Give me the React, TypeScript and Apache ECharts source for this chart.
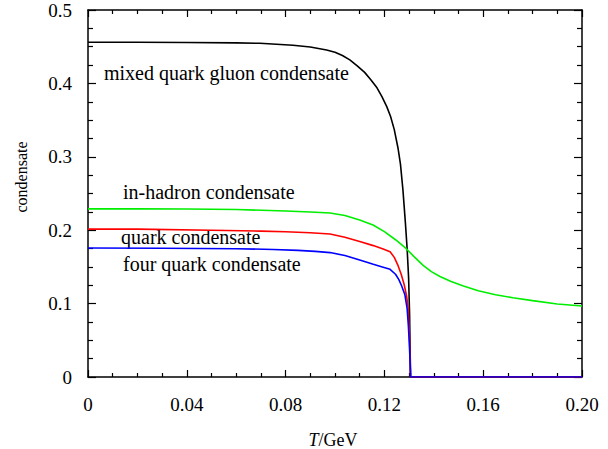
import React, { useEffect, useRef } from "react";
import * as echarts from "echarts";

const xTickLabels = ["0", "0.04", "0.08", "0.12", "0.16", "0.20"];
const yTickLabels = ["0", "0.1", "0.2", "0.3", "0.4", "0.5"];

const mixedT = [0, 0.02, 0.04, 0.06, 0.0696, 0.083, 0.09, 0.0966, 0.1, 0.103, 0.106, 0.109, 0.112, 0.1145, 0.117, 0.119, 0.121, 0.1225, 0.124, 0.1255, 0.1265, 0.1275, 0.1285, 0.1292, 0.1298, 0.1302, 0.1304, 0.1306, 0.2];
const mixedV = [0.456, 0.456, 0.4558, 0.4552, 0.4546, 0.452, 0.4495, 0.4455, 0.4425, 0.438, 0.432, 0.424, 0.415, 0.405, 0.394, 0.382, 0.368, 0.355, 0.337, 0.312, 0.29, 0.255, 0.21, 0.175, 0.135, 0.085, 0.04, 0, 0];

const hadronT = [0, 0.02, 0.04, 0.06, 0.08, 0.09, 0.098, 0.104, 0.11, 0.1154, 0.12, 0.1245, 0.1285, 0.132, 0.1357, 0.139, 0.1425, 0.147, 0.152, 0.158, 0.165, 0.172, 0.18, 0.19, 0.2];
const hadronV = [0.229, 0.229, 0.2288, 0.2282, 0.2262, 0.2248, 0.2235, 0.22, 0.214, 0.207, 0.198, 0.187, 0.176, 0.164, 0.152, 0.1435, 0.137, 0.13, 0.124, 0.1175, 0.112, 0.108, 0.104, 0.0995, 0.0967];

const quarkT = [0, 0.02, 0.05, 0.07, 0.08, 0.09, 0.098, 0.104, 0.11, 0.1155, 0.1195, 0.1223, 0.124, 0.1255, 0.1268, 0.128, 0.129, 0.1296, 0.1301, 0.1304, 0.1306, 0.2];
const quarkV = [0.2015, 0.2015, 0.2, 0.1988, 0.1978, 0.1965, 0.1948, 0.1905, 0.1845, 0.179, 0.1745, 0.1707, 0.163, 0.152, 0.14, 0.126, 0.11, 0.095, 0.06, 0.025, 0, 0];

const fourT = [0, 0.03, 0.06, 0.075, 0.085, 0.092, 0.098, 0.104, 0.11, 0.1155, 0.1195, 0.1223, 0.1245, 0.1258, 0.127, 0.1283, 0.1292, 0.1297, 0.1301, 0.1304, 0.1306, 0.2];
const fourV = [0.1757, 0.1755, 0.1748, 0.1738, 0.1725, 0.1712, 0.1695, 0.1655, 0.1595, 0.1535, 0.1495, 0.1467, 0.14, 0.133, 0.124, 0.112, 0.093, 0.07, 0.045, 0.02, 0, 0];

const curveLabels = [
  { text: "mixed quark gluon condensate", x: 104, y: 73 },
  { text: "in-hadron condensate", x: 123, y: 192 },
  { text: "quark condensate", x: 121, y: 236.5 },
  { text: "four quark condensate", x: 123, y: 264 },
];

const FONT = "'Liberation Serif', 'Times New Roman', serif";

const zip = (t: number[], v: number[]) => t.map((x, i) => [x, v[i]]);

export default function App() {
  const ref = useRef<HTMLDivElement>(null);
  useEffect(() => {
    if (!ref.current) return;
    const chart = echarts.init(ref.current, null, { renderer: "svg" });
    const tickStyle = { color: "#000", width: 1.2 };
    const xFmt = (v: number) => xTickLabels[Math.round(v / 0.04)] ?? "";
    const yFmt = (v: number) => yTickLabels[Math.round(v / 0.1)] ?? "";
    const baseX = {
      type: "value" as const,
      min: 0,
      max: 0.2,
      interval: 0.04,
      axisLine: { show: true, onZero: false, lineStyle: { color: "#000", width: 1.5 } },
      axisTick: { show: true, inside: true, length: 7, lineStyle: tickStyle },
      minorTick: { show: true, splitNumber: 4, length: 4, lineStyle: tickStyle },
      splitLine: { show: false },
      minorSplitLine: { show: false },
    };
    const baseY = {
      type: "value" as const,
      min: 0,
      max: 0.5,
      interval: 0.1,
      axisLine: { show: true, onZero: false, lineStyle: { color: "#000", width: 1.5 } },
      axisTick: { show: true, inside: true, length: 8, lineStyle: tickStyle },
      minorTick: { show: true, splitNumber: 4, length: 5, lineStyle: tickStyle },
      splitLine: { show: false },
      minorSplitLine: { show: false },
    };
    const line = (data: number[][], color: string) => ({
      type: "line" as const,
      data,
      showSymbol: false,
      symbol: "none",
      smooth: false,
      lineStyle: { color, width: 1.6 },
      xAxisIndex: 0,
      yAxisIndex: 0,
    });
    chart.setOption({
      animation: false,
      backgroundColor: "#fff",
      grid: { left: 88, right: 26, top: 10, bottom: 72, containLabel: false },
      xAxis: [
        {
          ...baseX,
          position: "bottom",
          axisLabel: { show: true, formatter: xFmt, margin: 18, color: "#000", fontSize: 19, fontFamily: FONT },
        },
        { ...baseX, position: "top", axisLabel: { show: false } },
      ],
      yAxis: [
        {
          ...baseY,
          position: "left",
          axisLabel: { show: true, formatter: yFmt, margin: 16, color: "#000", fontSize: 19, fontFamily: FONT },
        },
        { ...baseY, position: "right", axisLabel: { show: false } },
      ],
      series: [
        line(zip(mixedT, mixedV), "#000000"),
        line(zip(hadronT, hadronV), "#00ee00"),
        line(zip(quarkT, quarkV), "#ff0000"),
        line(zip(fourT, fourV), "#0000ff"),
      ],
      graphic: [
        ...curveLabels.map((l) => ({
          type: "text" as const,
          x: l.x,
          y: l.y,
          style: {
            text: l.text,
            fill: "#000",
            fontSize: 20,
            fontFamily: FONT,
            verticalAlign: "middle",
            align: "left",
          },
        })),
        {
          type: "text",
          x: 21,
          y: 177,
          rotation: Math.PI / 2,
          style: {
            text: "condensate",
            fill: "#000",
            fontSize: 16,
            fontFamily: FONT,
            align: "center",
            verticalAlign: "middle",
          },
        },
        {
          type: "text",
          x: 333,
          y: 440,
          style: {
            rich: {
              i: { fontStyle: "italic", fontSize: 18, fontFamily: FONT, fill: "#000" },
              n: { fontSize: 18, fontFamily: FONT, fill: "#000" },
            },
            text: "{i|T}{n|/GeV}",
            align: "center",
            verticalAlign: "middle",
          },
        },
      ],
    });
    return () => chart.dispose();
  }, []);
  return (
    <div
      ref={ref}
      style={{ position: "fixed", left: 0, top: 0, width: 608, height: 449 }}
    />
  );
}
